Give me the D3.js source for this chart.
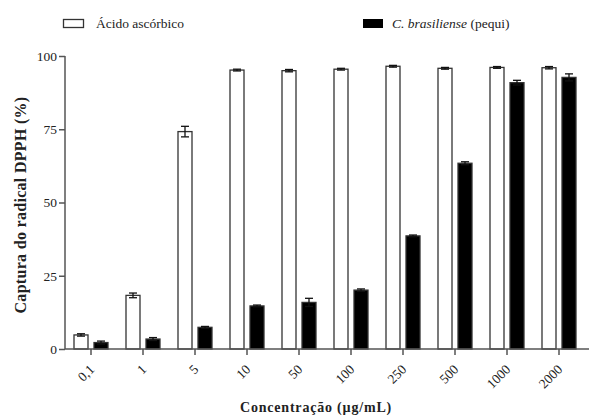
<!DOCTYPE html>
<html><head><meta charset="utf-8">
<script src="https://cdn.jsdelivr.net/npm/d3@7"></script>
<style>body{margin:0;background:#fff}svg{display:block}text{font-family:"Liberation Serif","Times New Roman",serif}</style>
</head><body><svg id="c" width="589" height="418"></svg>
<script>
const categories = ["0,1","1","5","10","50","100","250","500","1000","2000"];
const acido = [4.8, 18.3, 74.2, 95.2, 95.0, 95.5, 96.5, 95.8, 96.1, 96.0];
const acidoErr = [0.4, 0.8, 1.8, 0.3, 0.4, 0.3, 0.3, 0.3, 0.3, 0.4];
const pequi = [2.2, 3.4, 7.4, 14.7, 15.9, 20.1, 38.6, 63.4, 90.9, 92.7];
const pequiErr = [0.5, 0.5, 0.3, 0.3, 1.4, 0.4, 0.3, 0.5, 0.8, 1.2];
const yTicks = [0, 25, 50, 75, 100];
const seriesNames = ["Ácido ascórbico", "C. brasiliense"];

const svg = d3.select("#c");
const x = d3.scaleBand().domain(categories).range([65, 585]);
const y = d3.scaleLinear().domain([0, 100]).range([349, 56]);
const axisColor = "#555";
const bw = 14, off = 10;

function drawSeries(vals, errs, dx, fill) {
  const g = svg.append("g");
  g.selectAll("rect").data(vals).enter().append("rect")
    .attr("x", (d, i) => x(categories[i]) + x.bandwidth()/2 + dx - bw/2)
    .attr("y", d => y(d))
    .attr("width", bw)
    .attr("height", d => y(0) - y(d))
    .attr("fill", fill).attr("stroke", "#333").attr("stroke-width", 1.3);
  const e = svg.append("g").attr("stroke", "#111").attr("stroke-width", 1.3);
  vals.forEach((d, i) => {
    const cx = x(categories[i]) + x.bandwidth()/2 + dx;
    e.append("line").attr("x1", cx).attr("x2", cx).attr("y1", y(d + errs[i])).attr("y2", y(d - errs[i]));
    e.append("line").attr("x1", cx - 4).attr("x2", cx + 4).attr("y1", y(d + errs[i])).attr("y2", y(d + errs[i]));
    e.append("line").attr("x1", cx - 4).attr("x2", cx + 4).attr("y1", y(d - errs[i])).attr("y2", y(d - errs[i]));
  });
}
drawSeries(acido, acidoErr, -off, "#fff");
drawSeries(pequi, pequiErr, off, "#000");

const ya = svg.append("g").attr("transform", "translate(65,0)")
  .call(d3.axisLeft(y).tickValues(yTicks).tickSize(6).tickPadding(2).tickFormat(d3.format("d")));
ya.select(".domain").attr("stroke", axisColor).attr("stroke-width", 1.5).attr("d", "M0,56V349");
ya.selectAll(".tick line").attr("stroke", axisColor).attr("stroke-width", 1.5);
ya.selectAll(".tick text").attr("font-size", 13.5).attr("fill", "#222").attr("font-family", "Liberation Serif");

const xa = svg.append("g").attr("transform", "translate(0,349)")
  .call(d3.axisBottom(x).tickSize(6).tickPadding(3));
xa.select(".domain").attr("stroke", axisColor).attr("stroke-width", 1.5).attr("d", "M65,0H589");
xa.selectAll(".tick line").attr("stroke", axisColor).attr("stroke-width", 1.5);
xa.selectAll(".tick text").attr("font-size", 13.5).attr("fill", "#222").attr("font-family", "Liberation Serif")
  .attr("text-anchor", "end").attr("dy", "0.3em")
  .attr("transform", "translate(-5,12) rotate(-45)");

svg.append("text").attr("x", 316).attr("y", 412).attr("text-anchor", "middle")
  .attr("font-size", 14).attr("font-weight", "bold").attr("fill", "#222").attr("letter-spacing", 0.8)
  .text("Concentração (µg/mL)");
svg.append("text").attr("transform", "translate(26,205) rotate(-90)").attr("text-anchor", "middle")
  .attr("font-size", 16).attr("font-weight", "bold").attr("fill", "#222").attr("letter-spacing", 0.3)
  .text("Captura do radical DPPH (%)");

svg.append("rect").attr("x", 63.5).attr("y", 19.5).attr("width", 20).attr("height", 8)
  .attr("fill", "#fff").attr("stroke", "#333").attr("stroke-width", 1.3);
svg.append("text").attr("x", 96).attr("y", 28).attr("font-size", 13.5).attr("fill", "#222").text(seriesNames[0]);
svg.append("rect").attr("x", 363).attr("y", 19).attr("width", 20).attr("height", 9).attr("fill", "#000");
const lt = svg.append("text").attr("x", 392).attr("y", 28).attr("font-size", 13.5).attr("fill", "#222");
lt.append("tspan").attr("font-style", "italic").text(seriesNames[1]);
lt.append("tspan").text(" (pequi)");
</script></body></html>
